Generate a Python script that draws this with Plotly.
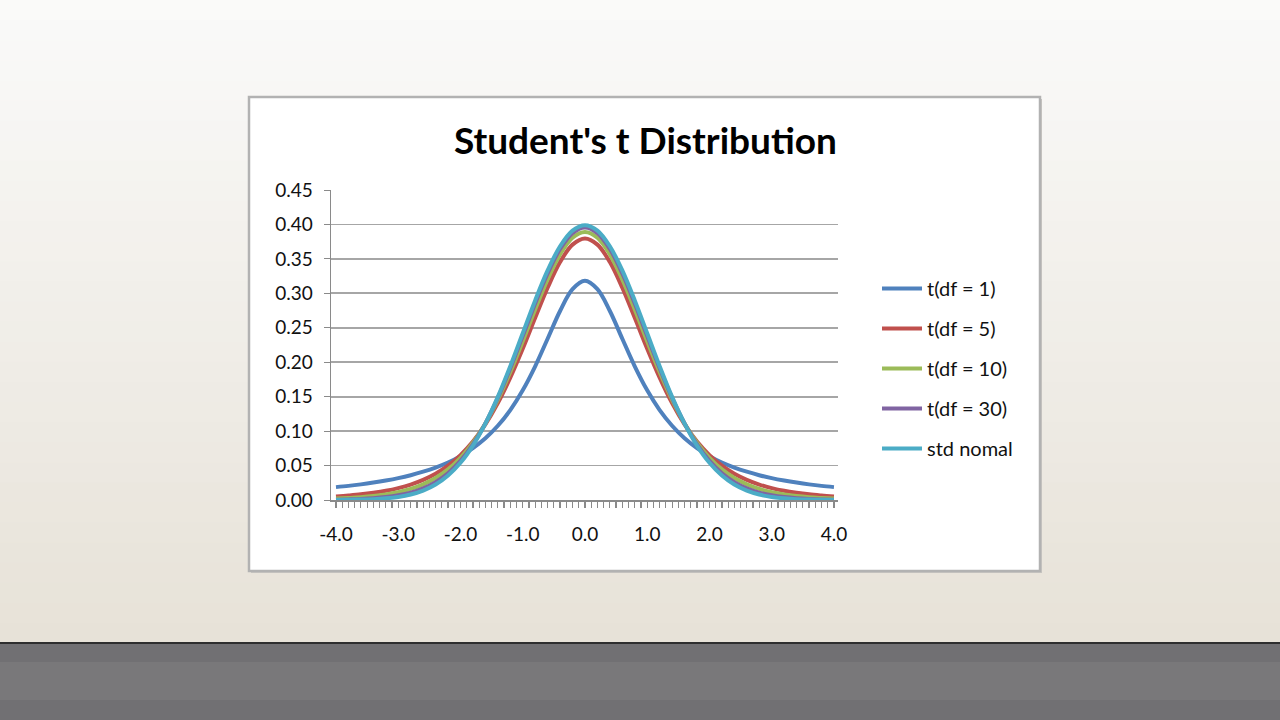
import plotly.graph_objects as go

W, H = 1280, 720

x_vals = [-4.0, -3.8, -3.6, -3.4, -3.2, -3.0, -2.8, -2.6, -2.4, -2.2, -2.0,
          -1.8, -1.6, -1.4, -1.2, -1.0, -0.8, -0.6, -0.4, -0.2, 0.0,
          0.2, 0.4, 0.6, 0.8, 1.0, 1.2, 1.4, 1.6, 1.8, 2.0,
          2.2, 2.4, 2.6, 2.8, 3.0, 3.2, 3.4, 3.6, 3.8, 4.0]

t_df1 = [0.0187, 0.0205, 0.0227, 0.0253, 0.0283, 0.0318, 0.0360, 0.0411, 0.0471, 0.0544, 0.0637,
         0.0754, 0.0897, 0.1078, 0.1305, 0.1592, 0.1941, 0.2341, 0.2744, 0.3061, 0.3183,
         0.3061, 0.2744, 0.2341, 0.1941, 0.1592, 0.1305, 0.1078, 0.0897, 0.0754, 0.0637,
         0.0544, 0.0471, 0.0411, 0.0360, 0.0318, 0.0283, 0.0253, 0.0227, 0.0205, 0.0187]

t_df5 = [0.0051, 0.0065, 0.0082, 0.0105, 0.0134, 0.0173, 0.0224, 0.0292, 0.0381, 0.0498, 0.0651,
         0.0848, 0.1098, 0.1407, 0.1777, 0.2197, 0.2645, 0.3081, 0.3454, 0.3707, 0.3796,
         0.3707, 0.3454, 0.3081, 0.2645, 0.2197, 0.1777, 0.1407, 0.1098, 0.0848, 0.0651,
         0.0498, 0.0381, 0.0292, 0.0224, 0.0173, 0.0134, 0.0105, 0.0082, 0.0065, 0.0051]

t_df10 = [0.0020, 0.0029, 0.0040, 0.0057, 0.0081, 0.0114, 0.0161, 0.0227, 0.0319, 0.0444, 0.0612,
          0.0831, 0.1111, 0.1454, 0.1857, 0.2304, 0.2766, 0.3203, 0.3566, 0.3807, 0.3891,
          0.3807, 0.3566, 0.3203, 0.2766, 0.2304, 0.1857, 0.1454, 0.1111, 0.0831, 0.0612,
          0.0444, 0.0319, 0.0227, 0.0161, 0.0114, 0.0081, 0.0057, 0.0040, 0.0029, 0.0020]

t_df30 = [0.0005, 0.0009, 0.0015, 0.0025, 0.0042, 0.0068, 0.0108, 0.0170, 0.0260, 0.0389, 0.0568,
          0.0807, 0.1112, 0.1483, 0.1913, 0.2380, 0.2852, 0.3288, 0.3643, 0.3875, 0.3956,
          0.3875, 0.3643, 0.3288, 0.2852, 0.2380, 0.1913, 0.1483, 0.1112, 0.0807, 0.0568,
          0.0389, 0.0260, 0.0170, 0.0108, 0.0068, 0.0042, 0.0025, 0.0015, 0.0009, 0.0005]

std_normal = [0.0001, 0.0003, 0.0006, 0.0012, 0.0024, 0.0044, 0.0079, 0.0136, 0.0224, 0.0355, 0.0540,
              0.0790, 0.1109, 0.1497, 0.1942, 0.2420, 0.2897, 0.3332, 0.3683, 0.3910, 0.3989,
              0.3910, 0.3683, 0.3332, 0.2897, 0.2420, 0.1942, 0.1497, 0.1109, 0.0790, 0.0540,
              0.0355, 0.0224, 0.0136, 0.0079, 0.0044, 0.0024, 0.0012, 0.0006, 0.0003, 0.0001]

series_names = ["t(df = 1)", "t(df = 5)", "t(df = 10)", "t(df = 30)", "std nomal"]
series_vals = [t_df1, t_df5, t_df10, t_df30, std_normal]
series_colors = ["#4F81BD", "#C0504D", "#9BBB59", "#8064A2", "#4BACC6"]

x_tick_vals = [-4, -3, -2, -1, 0, 1, 2, 3, 4]
x_tick_labels = ["-4.0", "-3.0", "-2.0", "-1.0", "0.0", "1.0", "2.0", "3.0", "4.0"]

title_text = "Student's t Distribution"

FONT = "Lato"

fig = go.Figure()
for i, (name, vals, col) in enumerate(zip(series_names, series_vals, series_colors)):
    fig.add_trace(go.Scatter(
        x=x_vals, y=vals, name=name, mode="lines",
        line=dict(color=col, width=4, shape="spline", smoothing=1.0),
        legendgroup=f"g{i}",
    ))

def px(x):
    return x / W

def py(y):
    return 1 - y / H

shapes = []
# background gradient bands (nearly white at top to beige near the bottom band)
top = (250, 250, 249)
bot = (231, 226, 216)
n = 32
y0, y1 = 0, 643
for k in range(n):
    t = k / (n - 1)
    c = tuple(int(round(top[j] + (bot[j] - top[j]) * t)) for j in range(3))
    ya = y0 + (y1 - y0) * k / n
    yb = y0 + (y1 - y0) * (k + 1) / n + 1
    shapes.append(dict(type="rect", xref="paper", yref="paper", layer="below",
                       x0=0, x1=1, y0=max(0, py(yb)), y1=py(ya),
                       fillcolor=f"rgb{c}", line=dict(width=0)))
# bottom gray band
shapes.append(dict(type="rect", xref="paper", yref="paper", layer="below",
                   x0=0, x1=1, y0=0, y1=py(643),
                   fillcolor="#717073", line=dict(width=0)))
shapes.append(dict(type="rect", xref="paper", yref="paper", layer="below",
                   x0=0, x1=1, y0=py(700), y1=py(662),
                   fillcolor="#79787a", line=dict(width=0)))
shapes.append(dict(type="line", xref="paper", yref="paper", layer="below",
                   x0=0, x1=1, y0=py(643), y1=py(643),
                   line=dict(color="#2e2e2e", width=2)))
# chart box shadow and box
shapes.append(dict(type="rect", xref="paper", yref="paper", layer="below",
                   x0=px(251), x1=px(1042), y0=py(573), y1=py(99),
                   fillcolor="#c8c6c2", line=dict(width=0)))
shapes.append(dict(type="rect", xref="paper", yref="paper", layer="below",
                   x0=px(249), x1=px(1040), y0=py(571), y1=py(97),
                   fillcolor="#ffffff", line=dict(color="#b2b2b2", width=2.5)))

fig.update_layout(
    width=W, height=H,
    margin=dict(l=0, r=0, t=0, b=0, pad=0, autoexpand=False),
    paper_bgcolor="#efece6",
    plot_bgcolor="rgba(0,0,0,0)",
    shapes=shapes,
    showlegend=True,
    legend=dict(
        x=px(877), y=py(269), xanchor="left", yanchor="top",
        font=dict(family=FONT, size=20, color="#111111"),
        bgcolor="rgba(0,0,0,0)",
        traceorder="grouped", tracegroupgap=11,
        itemwidth=40,
    ),
    annotations=[dict(
        text=f"<b>{title_text}</b>", x=px(645), y=py(140),
        xref="paper", yref="paper", xanchor="center", yanchor="middle",
        showarrow=False, font=dict(family=FONT, size=37, color="#000000"),
    )],
    xaxis=dict(
        domain=[px(331), px(838)],
        range=[-4.08, 4.065],
        tickmode="array", tickvals=x_tick_vals, ticktext=x_tick_labels,
        ticks="outside", ticklen=6, tickcolor="#8a8a8a", tickwidth=1.2,
        minor=dict(tickmode="linear", tick0=-4, dtick=0.1, ticks="outside",
                   ticklen=6, tickcolor="#8a8a8a", tickwidth=1.2, showgrid=False),
        showgrid=False, zeroline=False,
        showline=True, linecolor="#8a8a8a", linewidth=1.5,
        tickfont=dict(family=FONT, size=19, color="#111111"),
        ticklabelstandoff=11,
        fixedrange=True,
    ),
    yaxis=dict(
        domain=[py(500), py(190)],
        range=[0, 0.45],
        tickmode="linear", tick0=0, dtick=0.05, tickformat=".2f",
        ticks="outside", ticklen=6, tickcolor="#8a8a8a",
        showgrid=True, gridcolor="#a6a6a6", gridwidth=1.8,
        zeroline=False,
        showline=True, linecolor="#8a8a8a", linewidth=1.5,
        tickfont=dict(family=FONT, size=19, color="#111111"),
        ticklabelstandoff=7,
        fixedrange=True,
    ),
)

fig.write_html(
    "out.html",
    config={"displayModeBar": False, "staticPlot": True},
    post_script="document.body.style.margin='0';document.body.style.overflow='hidden';",
)
